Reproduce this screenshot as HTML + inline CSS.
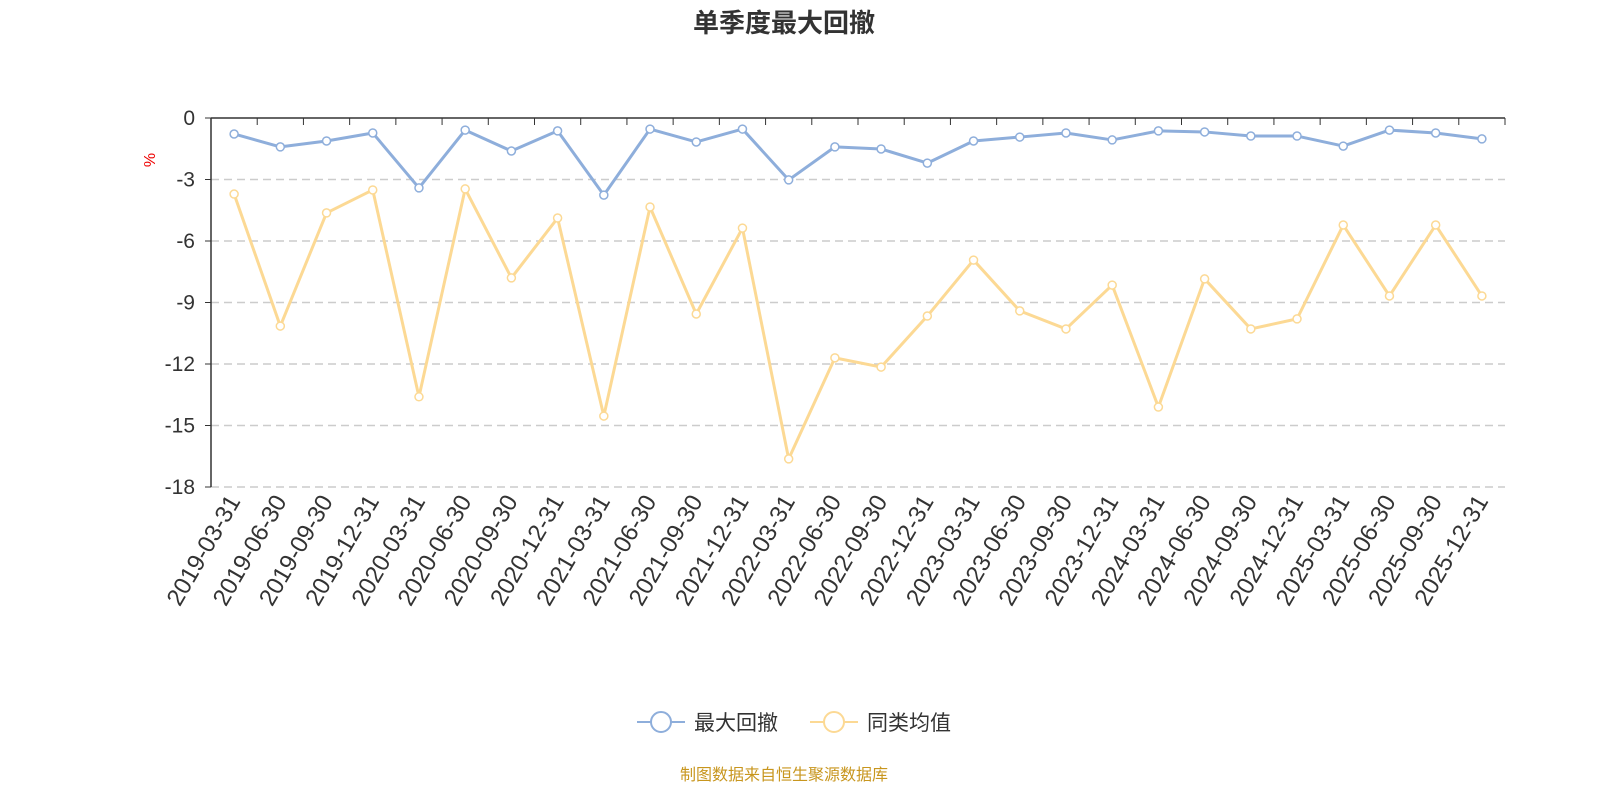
<!DOCTYPE html>
<html><head><meta charset="utf-8"><style>
body{margin:0;background:#fff;width:1600px;height:800px;overflow:hidden;font-family:"Liberation Sans","Noto Sans CJK SC",sans-serif}
</style></head><body>
<svg id="c" width="1600" height="800" xmlns="http://www.w3.org/2000/svg" style="font-family:'Liberation Sans','Noto Sans CJK SC',sans-serif">
<text x="784" y="32" text-anchor="middle" font-size="26" font-weight="bold" fill="#333">单季度最大回撤</text>
<text x="155" y="160" text-anchor="middle" font-size="16" fill="#e00" transform="rotate(-90 155 160)">%</text>
<g id="grid"></g><g id="axes"></g><g id="series"></g>
<g>
<g>
<line x1="637" y1="722" x2="685" y2="722" stroke="#8eaedb" stroke-width="2"/><circle cx="661" cy="722" r="10" fill="#fff" stroke="#8eaedb" stroke-width="2"/>
<text x="694" y="730" font-size="21" fill="#333">最大回撤</text></g>
<g>
<line x1="810" y1="722" x2="858" y2="722" stroke="#fcd994" stroke-width="2"/><circle cx="834" cy="722" r="10" fill="#fff" stroke="#fcd994" stroke-width="2"/>
<text x="867" y="730" font-size="21" fill="#333">同类均值</text></g>
</g>
<text x="784" y="780" text-anchor="middle" font-size="16" fill="#c8961e">制图数据来自恒生聚源数据库</text>
</svg>
<script>
const categories=["2019-03-31","2019-06-30","2019-09-30","2019-12-31","2020-03-31","2020-06-30","2020-09-30","2020-12-31","2021-03-31","2021-06-30","2021-09-30","2021-12-31","2022-03-31","2022-06-30","2022-09-30","2022-12-31","2023-03-31","2023-06-30","2023-09-30","2023-12-31","2024-03-31","2024-06-30","2024-09-30","2024-12-31","2025-03-31","2025-06-30","2025-09-30","2025-12-31"];
const maxDrawdown=[-0.78,-1.41,-1.12,-0.73,-3.41,-0.59,-1.61,-0.63,-3.76,-0.54,-1.17,-0.54,-3.02,-1.41,-1.51,-2.2,-1.12,-0.93,-0.73,-1.07,-0.63,-0.68,-0.88,-0.88,-1.37,-0.59,-0.73,-1.02];
const peerAverage=[-3.71,-10.15,-4.63,-3.51,-13.6,-3.46,-7.8,-4.88,-14.54,-4.34,-9.56,-5.37,-16.63,-11.7,-12.15,-9.66,-6.93,-9.41,-10.29,-8.15,-14.1,-7.85,-10.29,-9.8,-5.22,-8.68,-5.22,-8.68];
const yTicks=[0,-3,-6,-9,-12,-15,-18];
const NS="http://www.w3.org/2000/svg";
const L=211,R=1505,T=118,B=487;
const bw=(R-L)/categories.length;
const x=i=>L+bw*(i+0.5);
const y=v=>T+(B-T)*(v/-18);
function mk(t,a,p){const e=document.createElementNS(NS,t);for(const k in a)e.setAttribute(k,a[k]);p.appendChild(e);return e;}
const grid=document.getElementById('grid'),axes=document.getElementById('axes'),ser=document.getElementById('series');
yTicks.forEach(v=>{
  if(v!==0){const g=mk('line',{x1:L,x2:R,y1:y(v),y2:y(v),stroke:'#ccc','stroke-dasharray':'8,5','stroke-width':1.5},grid);
  
  }
  mk('line',{x1:L-6,x2:L,y1:y(v),y2:y(v),stroke:'#333'},axes);
  const t=mk('text',{x:L-16,y:y(v)+7,'text-anchor':'end','font-size':21,fill:'#333'},axes);t.textContent=v;
  
  
});
const ya=mk('line',{x1:L,x2:L,y1:T,y2:B,stroke:'#333','stroke-width':1.5},axes);


const xa=mk('line',{x1:L,x2:R,y1:T,y2:T,stroke:'#333','stroke-width':1.5},axes);


for(let i=0;i<=categories.length;i++)mk('line',{x1:L+bw*i,x2:L+bw*i,y1:T,y2:T+7,stroke:'#333'},axes);
categories.forEach((c,i)=>{
  const px=x(i)+7,py=B+14;
  const t=mk('text',{x:px,y:py,'text-anchor':'end','font-size':24,fill:'#333',transform:`rotate(-60 ${px} ${py})`},axes);
  t.textContent=c;
  
  
});
function series(data,color,name){
  const p=mk('polyline',{points:data.map((v,i)=>x(i)+','+y(v)).join(' '),fill:'none',stroke:color,'stroke-width':3,'stroke-linejoin':'round'},ser);
  
  
  data.forEach((v,i)=>{const c=mk('circle',{cx:x(i),cy:y(v),r:4,fill:'#fff',stroke:color,'stroke-width':1.5},ser);
  
  });
}
series(peerAverage,'#fcd994','peer-average');
series(maxDrawdown,'#8eaedb','max-drawdown');
</script>
</body></html>
